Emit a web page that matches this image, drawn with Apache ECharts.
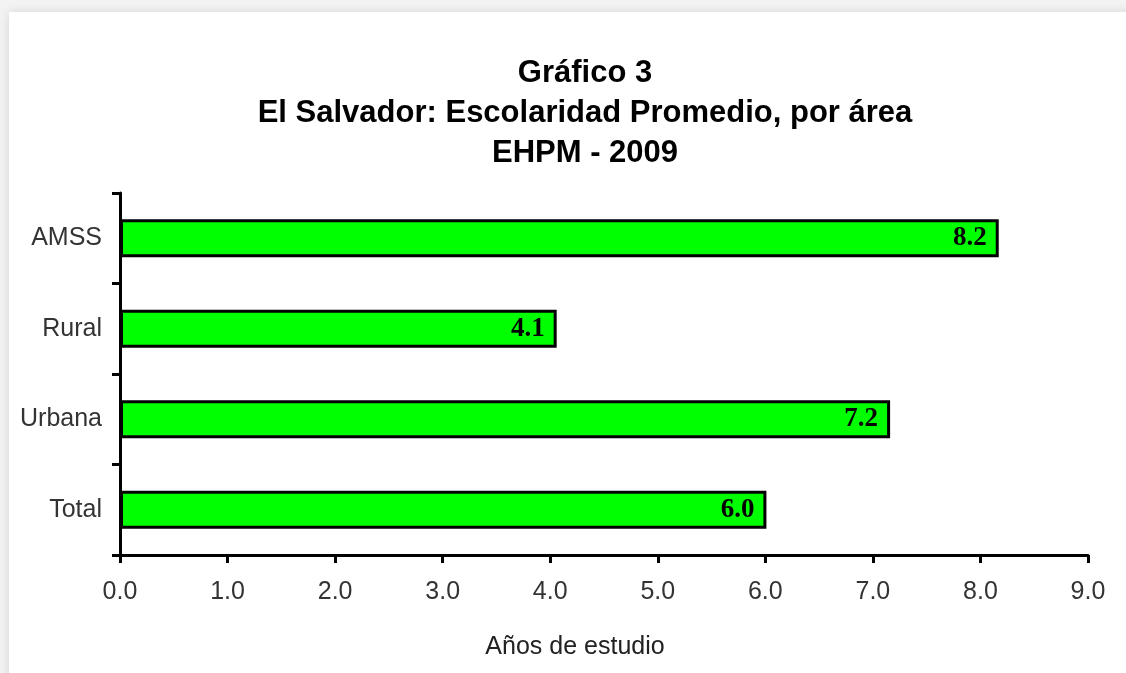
<!DOCTYPE html>
<html>
<head>
<meta charset="utf-8">
<script src="https://cdn.jsdelivr.net/npm/echarts@6/dist/echarts.min.js"></script>
<style>
  html, body { margin: 0; padding: 0; background: #f3f3f3; }
  #card {
    position: absolute; left: 9px; top: 12px; width: 1130px; height: 680px;
    background: #fff; box-shadow: 0 0 10px rgba(0,0,0,0.12);
  }
  #chart { position: absolute; left: 0; top: 0; width: 1126px; height: 673px; }
</style>
</head>
<body>
<div id="card"></div>
<div id="chart"></div>
<script>
const categories = ['Total', 'Urbana', 'Rural', 'AMSS']
const values = [6.01, 7.16, 4.06, 8.17]
const xTicks = [0, 1, 2, 3, 4, 5, 6, 7, 8, 9]

function bar(dom){
    const myChart = echarts.init(dom)
    const option = {
        title: {
            text: 'Gráfico 3\nEl Salvador: Escolaridad Promedio, por área\nEHPM - 2009',
            left: 580,
            textAlign: 'center',
            top: 48,
            textStyle: {
                fontFamily: 'Liberation Sans',
                fontSize: 31,
                fontWeight: 'bold',
                color: '#000',
                lineHeight: 40
            }
        },
        grid: {
            left: 120,
            right: 38,
            top: 193,
            bottom: 118
        },
        xAxis: {
            type: 'value',
            min: xTicks[0],
            max: xTicks[xTicks.length - 1],
            interval: 1,
            name: 'Años de estudio',
            nameLocation: 'middle',
            nameGap: 80,
            nameTextStyle: {
                fontFamily: 'Liberation Sans',
                fontSize: 25,
                color: '#222',
                padding: [0, 58, 0, 0]
            },
            splitLine: { show: false },
            axisLine: { show: true, lineStyle: { color: '#000', width: 3 } },
            axisTick: { show: true, length: 8, lineStyle: { color: '#000', width: 3 } },
            axisLabel: {
                fontFamily: 'Liberation Sans',
                fontSize: 25,
                color: '#333',
                margin: 25,
                formatter: (v) => v.toFixed(1)
            }
        },
        yAxis: {
            type: 'category',
            data: categories,
            axisLine: { show: true, lineStyle: { color: '#000', width: 3 } },
            axisTick: { show: true, length: 8, lineStyle: { color: '#000', width: 3 } },
            axisLabel: {
                fontFamily: 'Liberation Sans',
                fontSize: 25,
                color: '#333',
                margin: 18
            }
        },
        series: [
            {
                type: 'bar',
                data: values,
                barWidth: '42%',
                itemStyle: {
                    color: '#00ff00',
                    borderColor: '#000',
                    borderWidth: 3
                },
                label: {
                    show: true,
                    position: 'insideRight',
                    distance: 12,
                    fontFamily: 'Liberation Serif',
                    fontWeight: 'bold',
                    fontSize: 27,
                    color: '#000',
                    formatter: (p) => p.value.toFixed(1)
                },
                animation: false
            }
        ]
    }
    myChart.setOption(option)
    return myChart
}

bar(document.getElementById('chart'))
</script>
</body>
</html>
